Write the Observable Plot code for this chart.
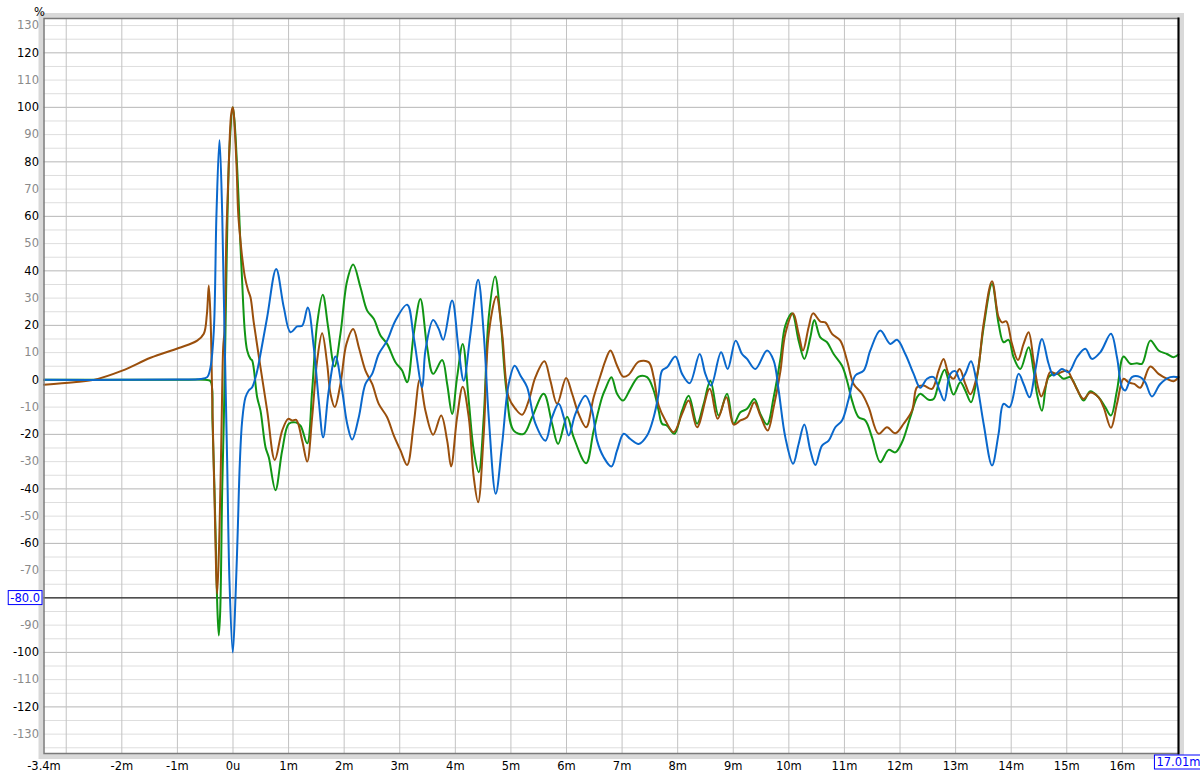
<!DOCTYPE html>
<html>
<head>
<meta charset="utf-8">
<script src="https://cdn.jsdelivr.net/npm/d3@7"></script>
<script src="https://cdn.jsdelivr.net/npm/@observablehq/plot@0.6"></script>
<style>
  html, body { margin: 0; padding: 0; background: #ffffff; }
  #chart { width: 1200px; height: 779px; }
  #chart svg text { font-family: "DejaVu Sans", sans-serif; font-size: 11.5px; }
</style>
</head>
<body>
<div id="chart"></div>
<script>
// ---- data (time in ms, value in %) ----
const xMin = -3.4;
const xMax = 17.01;
const yMin = -137.1;
const yMax = 132.6;
const cursorY = -80;

const xTickLabels = [-3.4, -2, -1, 0, 1, 2, 3, 4, 5, 6, 7, 8, 9, 10, 11, 12, 13, 14, 15, 16];
const xGridLines = [-3, -2, -1, 0, 1, 2, 3, 4, 5, 6, 7, 8, 9, 10, 11, 12, 13, 14, 15, 16];
const yMajorGrid = [-120, -100, -80, -60, -40, -20, 0, 20, 40, 60, 80, 100, 120];
const yMajorLabels = [-120, -100, -60, -40, -20, 0, 20, 40, 60, 80, 100, 120];
const yMinorLabels = [-130, -110, -90, -70, -50, -30, -10, 10, 30, 50, 70, 90, 110, 130];
const yFineGrid = [-135, -125, -115, -105, -95, -85, -75, -65, -55, -45, -35, -25, -15, -5, 5, 15, 25, 35, 45, 55, 65, 75, 85, 95, 105, 115, 125,
                   -130, -110, -90, -70, -50, -30, -10, 10, 30, 50, 70, 90, 110, 130];

const blueSeries = [[-3.4,0],[-2,0],[-1,0.1],[-0.585,0.3],[-0.464,1],[-0.405,4.6],[-0.345,18],[-0.297,61],[-0.243,88],[-0.194,61],[-0.153,18],[-0.104,-31],[-0.063,-74],[-0.004,-100],[0.045,-80],[0.086,-55],[0.122,-31],[0.165,-15],[0.225,-6.4],[0.284,-3.9],[0.345,-2.7],[0.42,2],[0.495,9.5],[0.615,23],[0.777,40.7],[0.914,26.6],[1.034,17.5],[1.155,19.6],[1.245,19.9],[1.345,26.6],[1.453,12],[1.543,-7.6],[1.622,-21.1],[1.723,-3.9],[1.844,8.6],[1.964,-3.9],[2.054,-16.1],[2.144,-21.9],[2.263,-13.7],[2.383,-1.5],[2.504,2.2],[2.622,9.5],[2.773,14.4],[2.923,21.8],[3.133,27.6],[3.252,15.6],[3.403,-2.7],[3.462,10.8],[3.601,22],[3.701,18.7],[3.781,14.7],[3.942,29.1],[4.061,10.8],[4.151,-0.3],[4.272,16.9],[4.41,36.7],[4.511,16.9],[4.601,-13.7],[4.727,-41.8],[4.842,-23.5],[4.96,-1.5],[5.068,5.2],[5.171,1.6],[5.291,-2.7],[5.441,-16.1],[5.621,-22.3],[5.741,-13.7],[5.86,-8.8],[5.95,-13.7],[6.04,-20.4],[6.16,-12.5],[6.34,-5.8],[6.46,-11.3],[6.55,-22.3],[6.669,-28.4],[6.808,-31.8],[6.91,-25.9],[7.029,-19.8],[7.149,-21.7],[7.299,-23.5],[7.45,-20.4],[7.568,-13.7],[7.658,-5.1],[7.719,3.4],[7.809,4.6],[7.959,8.6],[8.079,2.2],[8.216,-1.2],[8.396,9.5],[8.498,2.2],[8.601,-2.1],[8.781,10.1],[8.899,4],[9.043,14.4],[9.158,9.5],[9.248,7.7],[9.397,4],[9.608,10.8],[9.727,7.1],[9.817,-3.9],[9.937,-21.1],[10.076,-30.8],[10.176,-23.5],[10.279,-16.4],[10.387,-25.9],[10.477,-31.2],[10.597,-24.1],[10.716,-22.3],[10.836,-17.4],[10.957,-14.9],[11.076,-7],[11.196,1.6],[11.345,3.4],[11.466,10.8],[11.645,18.1],[11.825,13.2],[11.946,14.7],[12.095,9.5],[12.245,2.2],[12.365,-2.9],[12.486,0.4],[12.604,1],[12.712,-3.9],[12.797,-7.6],[12.905,2.2],[12.995,3.2],[13.085,-0.3],[13.174,2.2],[13.277,6.8],[13.385,-1.5],[13.504,-16.1],[13.655,-31.4],[13.773,-19.8],[13.863,-8.8],[13.971,-10],[14.133,2.2],[14.223,-1.5],[14.331,-6.4],[14.433,3.4],[14.554,15],[14.673,5.9],[14.763,1.6],[14.914,4],[15.032,2.8],[15.183,8.3],[15.333,11.4],[15.453,7.7],[15.603,10.1],[15.795,16.9],[15.903,8.3],[15.993,-2.7],[16.052,-3.9],[16.173,1],[16.322,1],[16.412,-0.9],[16.532,-6.1],[16.682,-1.5],[16.862,1],[17.01,1]];

const greenSeries = [[-3.4,0],[-2,0],[-1,0],[-0.5,0],[-0.405,-0.5],[-0.369,-15],[-0.315,-55],[-0.279,-85],[-0.255,-93.8],[-0.23,-85],[-0.194,-40],[-0.165,-15],[-0.135,18],[-0.099,60],[-0.063,85],[-0.004,100],[0.027,95],[0.086,73],[0.135,49],[0.165,36],[0.212,18],[0.255,10.8],[0.315,7.7],[0.345,7.1],[0.435,-6.4],[0.495,-11.3],[0.585,-24.7],[0.644,-28.4],[0.764,-40.5],[0.885,-25.9],[1.004,-16.1],[1.124,-15.6],[1.214,-16.8],[1.335,-23.3],[1.424,-3.9],[1.514,20.6],[1.615,31.2],[1.712,19.3],[1.826,4.9],[1.933,16.9],[2.054,36.4],[2.162,42.3],[2.293,34],[2.414,25.4],[2.532,22.4],[2.653,16.3],[2.773,13.2],[2.923,6.5],[3.043,3.4],[3.133,-0.9],[3.252,16.9],[3.372,29.7],[3.493,12],[3.601,2.2],[3.763,7.3],[3.853,-1.5],[3.942,-12.5],[4.032,1],[4.133,13.2],[4.241,-7.6],[4.331,-25.9],[4.421,-33.9],[4.511,-13.7],[4.601,23],[4.716,37.9],[4.811,23],[4.919,-3.9],[5.05,-18.6],[5.23,-19.8],[5.381,-13.7],[5.59,-5.1],[5.741,-16.1],[5.849,-23.5],[6.011,-13.5],[6.129,-21.1],[6.353,-30.6],[6.489,-18.6],[6.64,-6.4],[6.7,-3.3],[6.808,1],[6.91,-5.1],[7.018,-7.6],[7.149,-3.3],[7.299,1.2],[7.45,1],[7.568,-3.9],[7.658,-11.3],[7.719,-16.1],[7.809,-16.8],[7.941,-19.8],[8.079,-11.3],[8.198,-5.8],[8.349,-16.1],[8.468,-8.8],[8.588,-0.3],[8.737,-13.1],[8.888,-5.1],[9.007,-16.1],[9.128,-11.9],[9.248,-10.6],[9.379,-7],[9.487,-12.5],[9.608,-16.4],[9.727,-6.4],[9.847,7.5],[9.937,19.9],[10.058,24.4],[10.176,14.4],[10.279,7.7],[10.387,15.6],[10.459,22],[10.567,15.6],[10.687,13.8],[10.806,9.5],[10.957,5.2],[11.047,-0.3],[11.137,-7.6],[11.255,-13.7],[11.376,-14.9],[11.496,-21.1],[11.645,-30.2],[11.795,-25.7],[11.915,-26.6],[12.036,-22.9],[12.185,-13.7],[12.306,-6.4],[12.365,-5.1],[12.514,-7.3],[12.604,-7],[12.694,-1.5],[12.802,3.7],[12.874,-0.3],[12.964,-5.4],[13.085,-0.9],[13.174,-3.9],[13.277,-8.2],[13.385,1],[13.504,19.3],[13.655,35.2],[13.773,20.6],[13.863,13.8],[13.953,14.7],[14.043,8.3],[14.164,4],[14.313,12],[14.403,3.4],[14.464,-5.1],[14.554,-11.3],[14.673,1],[14.824,2.2],[14.942,0.4],[15.063,1],[15.183,-3.3],[15.302,-7.6],[15.423,-4.2],[15.572,-6.4],[15.692,-10],[15.795,-13.1],[15.903,-3.9],[16.022,8.6],[16.142,5.9],[16.263,6.1],[16.353,5.9],[16.502,14.4],[16.651,10.8],[16.802,9.5],[16.921,8.3],[17.01,9.3]];

const brownSeries = [[-3.4,-1.8],[-2.863,-0.9],[-2.504,0],[-1.993,3.4],[-1.484,8.1],[-0.975,11.7],[-0.644,14.4],[-0.525,16.9],[-0.47,24],[-0.435,34.6],[-0.4,20],[-0.374,-6.4],[-0.333,-43],[-0.284,-78.5],[-0.243,-55.3],[-0.207,-18.6],[-0.176,12],[-0.153,18],[-0.117,55],[-0.076,79],[-0.032,97.6],[-0.004,100],[0.014,97.6],[0.063,79],[0.094,61],[0.135,51],[0.165,45],[0.212,38],[0.27,33],[0.315,30.3],[0.374,21],[0.495,4.6],[0.615,-11.3],[0.752,-29.4],[0.885,-18.6],[0.993,-14.3],[1.065,-14.9],[1.137,-14.7],[1.245,-22.3],[1.335,-30],[1.424,-13.7],[1.514,7.1],[1.604,17.1],[1.694,5.9],[1.754,-5.1],[1.831,-10],[1.933,-1.5],[2.041,13.2],[2.162,18.7],[2.263,12],[2.383,3.4],[2.504,-1.5],[2.622,-8.8],[2.773,-13.7],[2.892,-20.4],[3.013,-25.9],[3.133,-31.2],[3.252,-16.1],[3.36,0],[3.462,-11.3],[3.601,-20.1],[3.745,-13.1],[3.853,-22.3],[3.924,-31.8],[4.032,-13.7],[4.133,-2.5],[4.241,-13.7],[4.331,-35.7],[4.41,-44.9],[4.511,-19.8],[4.601,16.9],[4.739,30.6],[4.842,16.9],[4.96,-6.4],[5.081,-10.6],[5.201,-12.8],[5.32,-7.6],[5.441,1],[5.603,6.8],[5.71,-0.3],[5.831,-8.8],[5.993,0.7],[6.101,-5.1],[6.219,-12.5],[6.353,-17.4],[6.489,-6.4],[6.64,3.4],[6.7,7.1],[6.79,10.8],[6.91,5.2],[7.018,1.2],[7.119,1.9],[7.299,6.7],[7.478,6.5],[7.568,1],[7.658,-9.4],[7.779,-14.9],[7.928,-19.2],[8.079,-12.5],[8.198,-7.6],[8.349,-17.4],[8.576,-3.3],[8.719,-14.3],[8.876,-6.4],[9.007,-16.4],[9.128,-14.9],[9.248,-13.7],[9.379,-8.2],[9.487,-13.1],[9.619,-18.6],[9.727,-10],[9.847,3],[9.937,16.9],[10.076,24.4],[10.176,16.9],[10.255,10.8],[10.356,19.3],[10.435,24.4],[10.567,21.4],[10.656,21.1],[10.777,16.9],[10.926,14.4],[11.047,7.1],[11.165,-1.5],[11.317,-5.1],[11.435,-10],[11.615,-19.8],[11.766,-17.4],[11.915,-19.6],[12.065,-16.1],[12.216,-11.3],[12.306,-2.7],[12.424,-2.1],[12.575,-3.3],[12.694,3.4],[12.784,7.7],[12.874,2.2],[12.964,0.4],[13.072,4],[13.174,-1.5],[13.264,-5.3],[13.385,1.5],[13.504,20.6],[13.655,36.2],[13.773,23],[13.835,21.1],[13.912,21.5],[14.014,13.2],[14.122,7.3],[14.223,13.2],[14.313,17.5],[14.403,7.1],[14.482,-2.7],[14.541,-6.1],[14.613,-2.7],[14.703,2.8],[14.824,2.2],[15.003,3.4],[15.122,-0.9],[15.302,-7],[15.423,-4.6],[15.572,-6.4],[15.662,-10],[15.795,-17.6],[15.903,-8.8],[16.022,0.4],[16.111,-0.9],[16.214,-1.5],[16.322,-2.9],[16.502,4.9],[16.651,2.2],[16.802,0.4],[16.921,-0.5],[17.01,1]];

const seriesColors = { blue: "#0a68cc", green: "#119514", brown: "#9a4f0c" };

// ---- chart ----
const lineOpts = (color) => ({
  x: d => d[0], y: d => d[1], stroke: color, strokeWidth: 2, curve: "catmull-rom"
});

const chart = Plot.plot({
  width: 1200,
  height: 779,
  marginLeft: 43.5,
  marginRight: 22,
  marginTop: 18,
  marginBottom: 26,
  x: { domain: [xMin, xMax] },
  y: { domain: [yMin, yMax] },
  style: { fontFamily: "'DejaVu Sans', sans-serif", fontSize: "11.5px", background: "white", overflow: "visible" },
  marks: [
    Plot.frame({ stroke: "#d9d9d9", strokeWidth: 5, inset: -3 }),
    Plot.gridY(yFineGrid, { stroke: "#dedede", strokeOpacity: 1 }),
    Plot.gridY(yMajorGrid, { stroke: "#b6b6b6", strokeOpacity: 1 }),
    Plot.gridX(xGridLines, { stroke: "#c2c2c2", strokeOpacity: 1 }),
    Plot.ruleY([cursorY], { stroke: "black", strokeWidth: 1 }),
    Plot.line(greenSeries, lineOpts(seriesColors.green)),
    Plot.line(brownSeries, lineOpts(seriesColors.brown)),
    Plot.line(blueSeries, lineOpts(seriesColors.blue)),
    Plot.frame({ stroke: "#7a7a7a", strokeWidth: 1.5 }),
    Plot.frame({ anchor: "right", stroke: "black", strokeWidth: 2 }),
    Plot.axisY(yMajorLabels, { tickSize: 0, tickPadding: 5, fill: "black", label: null, tickFormat: d => String(d) }),
    Plot.axisY(yMinorLabels, { tickSize: 0, tickPadding: 5, fill: "#8a8a8a", label: null, tickFormat: d => String(d) }),
    Plot.axisX(xTickLabels, { tickSize: 0, tickPadding: 8, fill: "black", label: null,
      tickFormat: d => d === 0 ? "0u" : String(d) + "m" }),
    Plot.text([cursorY], { y: d => d, frameAnchor: "left", dx: -4, textAnchor: "end",
      text: d => d.toFixed(1), fill: "#0000ff" }),
    Plot.text([xMax], { x: d => d, frameAnchor: "bottom", dy: 12.5, textAnchor: "middle",
      text: d => d.toFixed(2) + "m", fill: "#0000ff" }),
    Plot.text(["%"], { frameAnchor: "top-left", dx: -10, dy: -11, text: d => d, fill: "black" })
  ]
});

document.getElementById("chart").append(chart);

// boxed readouts
const boxedTexts = [cursorY.toFixed(1), xMax.toFixed(2) + "m"];
chart.querySelectorAll("text").forEach(t => {
  if (boxedTexts.includes(t.textContent)) {
    const b = t.getBBox();
    const r = document.createElementNS("http://www.w3.org/2000/svg", "rect");
    r.setAttribute("x", b.x - 2);
    r.setAttribute("y", b.y);
    r.setAttribute("width", b.width + 4);
    r.setAttribute("height", b.height);
    r.setAttribute("fill", "white");
    r.setAttribute("stroke", "#0000ff");
    r.setAttribute("stroke-width", "1");
    if (t.getAttribute("transform")) r.setAttribute("transform", t.getAttribute("transform"));
    t.parentNode.insertBefore(r, t);
  }
});
</script>
</body>
</html>
